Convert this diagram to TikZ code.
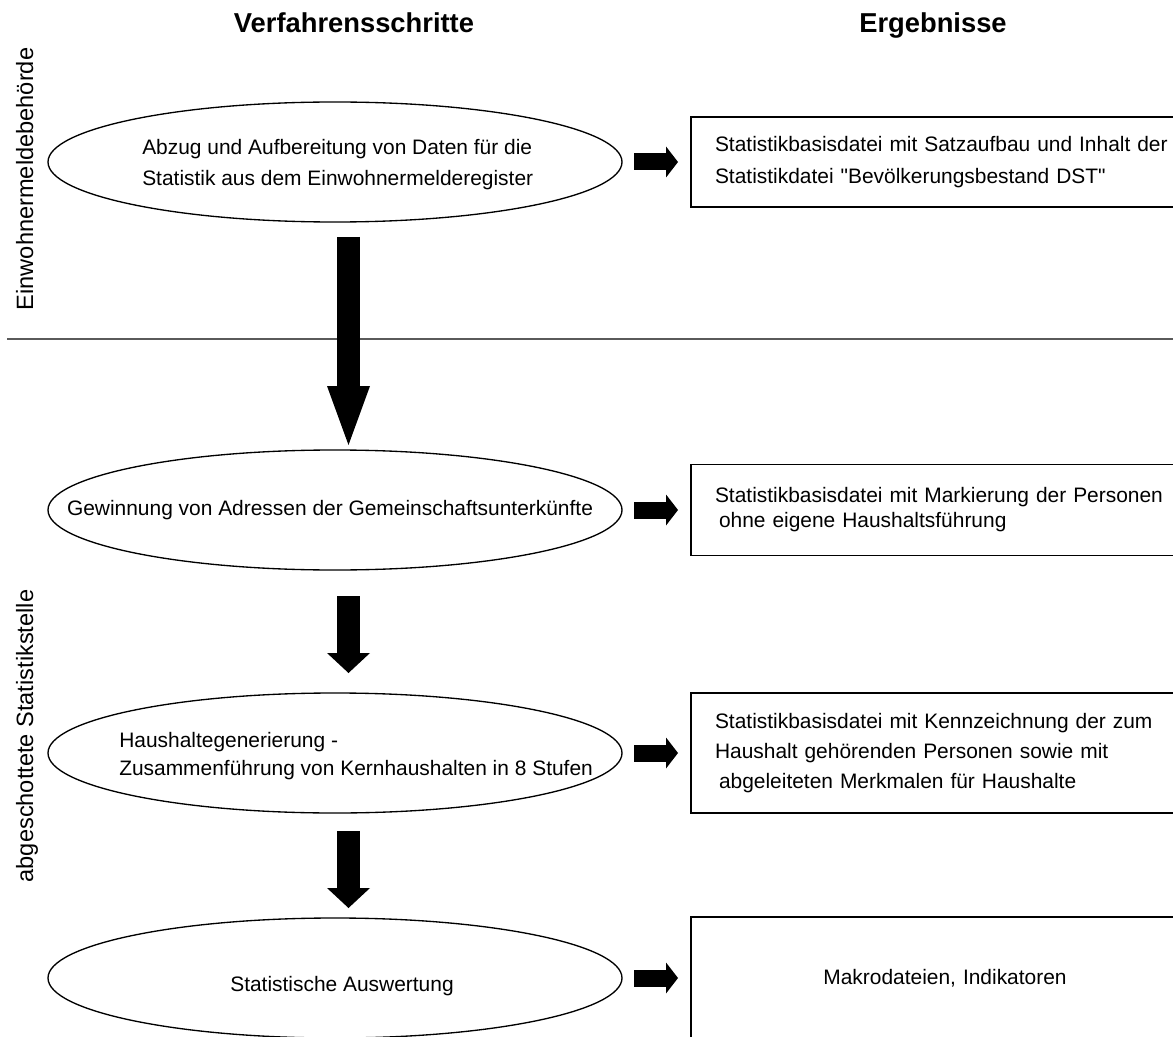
\documentclass[tikz,border=0pt]{standalone}
\usepackage{fontspec}
\setmainfont{Liberation Sans}[Ligatures=TeXOff]
\usepackage{tikz}
\usetikzlibrary{arrows.meta,positioning,shapes.geometric}
\definecolor{rule}{HTML}{5A5A5A}
\tikzset{
  head/.style={font=\fontsize{20.5pt}{24pt}\selectfont\bfseries,anchor=base,inner sep=0pt},
  side/.style={font=\fontsize{17.7pt}{21pt}\selectfont,rotate=90,anchor=base,inner sep=0pt},
  stepshape/.style={draw,ellipse,line width=1pt,minimum width=430.5pt,minimum height=90pt,inner sep=0pt,outer sep=0pt},
  steptext/.style={align=left,inner sep=0pt,font=\fontsize{15.7pt}{23.25pt}\selectfont},
  result/.style={draw,line width=1.2pt,text width=345pt,inner xsep=18pt,inner ysep=0pt,align=left,outer sep=0pt,font=\fontsize{15.7pt}{24pt}\selectfont},
  fat/.style={line width=12.75pt,-{Triangle[width=23.25pt,length=9pt,line width=0pt]},shorten <=9pt,shorten >=9.75pt},
  down/.style={line width=17.25pt,-{Triangle[width=32.25pt,length=15pt,line width=0pt]}},
  bigdown/.style={line width=17.25pt,-{Triangle[width=32.25pt,length=44.25pt,line width=0pt]}}
}
\begin{document}
\begin{tikzpicture}[x=0.75pt,y=-0.75pt]
  \path[use as bounding box,fill=white] (0,0) rectangle (1173,1037);
  \node[head] (h1) at (354,33) {Verfahrensschritte};
  \node[head] (h2) at (933,33) {Ergebnisse};
  \node[side] (s1) at (33,179) {Einwohnermeldebehörde};
  \node[side] (s2) at (33,736) {abgeschottete Statistikstelle};
  \draw[rule,line width=0.9pt] (7,339) -- (1173,339);

  \node[stepshape] (e1) at (335,162) {};
  \node[steptext,anchor=west] (t1) at (142,164.5) {Abzug und Aufbereitung von Daten für die\\Statistik aus dem Einwohnermelderegister};
  \node[stepshape] (e2) at (335,510) {};
  \node[steptext] (t2) at (330,510) {Gewinnung von Adressen der Gemeinschaftsunterkünfte};
  \node[stepshape] (e3) at (335,753) {};
  \node[steptext,anchor=west,font=\fontsize{15.7pt}{21pt}\selectfont] (t3) at (119,756) {Haushaltegenerierung -\\Zusammenführung von Kernhaushalten in 8 Stufen};
  \node[stepshape] (e4) at (335,978) {};
  \node[steptext] (t4) at (342,986) {Statistische Auswertung};

  \node[result,right=51.75pt of e1,minimum height=67.5pt] (r1) {Statistikbasisdatei mit Satzaufbau und Inhalt der\\Statistikdatei "Bevölkerungsbestand DST"};
  \node[result,right=51.75pt of e2,minimum height=68.25pt,font=\fontsize{15.7pt}{18.75pt}\selectfont] (r2) {Statistikbasisdatei mit Markierung der Personen\\\hspace*{3pt}ohne eigene Haushaltsführung};
  \node[result,right=51.75pt of e3,minimum height=90pt,font=\fontsize{15.7pt}{22.5pt}\selectfont] (r3) {Statistikbasisdatei mit Kennzeichnung der zum\\Haushalt gehörenden Personen sowie mit\\\hspace*{3pt}abgeleiteten Merkmalen für Haushalte};
  \node[result,right=51.75pt of e4,minimum height=91.5pt,align=center] (r4) {Makrodateien, Indikatoren};

  \coordinate (spine) at (348.5,0);
  \draw[bigdown,shorten <=11.25pt,shorten >=3.75pt] (e1.south -| spine) -- (e2.north -| spine);
  \draw[down,shorten <=19.5pt,shorten >=15pt] (e2.south -| spine) -- (e3.north -| spine);
  \draw[down,shorten <=13.5pt,shorten >=7.5pt] (e3.south -| spine) -- (e4.north -| spine);
  \foreach \i in {1,...,4} \draw[fat] (e\i.east) -- (e\i.east -| r\i.west);
\end{tikzpicture}
\end{document}
